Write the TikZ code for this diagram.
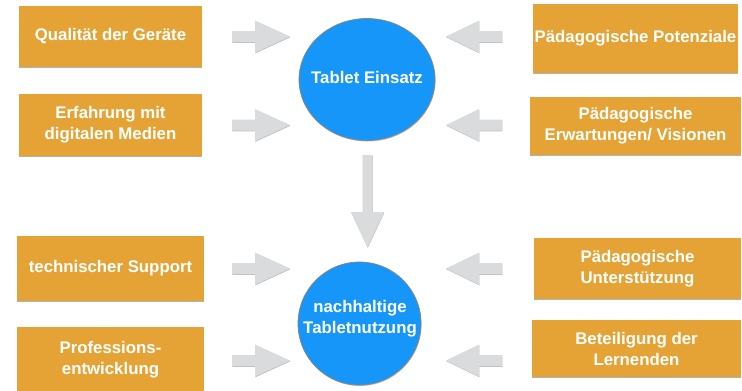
\documentclass[tikz,border=0pt]{standalone}
\usepackage{fontspec}
\setmainfont{Liberation Sans}
\usetikzlibrary{shapes.geometric,shadows}
\definecolor{boxorange}{HTML}{E6A335}
\definecolor{circblue}{HTML}{1796F9}
\definecolor{arrgray}{HTML}{DADBDD}
\definecolor{rimgray}{HTML}{8A8580}
\tikzset{
  lbl/.style={font=\fontsize{16.8bp}{21bp}\selectfont\bfseries, text=white, align=center},
  obox/.style={lbl, rectangle, fill=boxorange, inner sep=0pt,
    drop shadow={shadow xshift=0.4bp, shadow yshift=-1.4bp, opacity=0.3, fill=black}},
  bcirc/.style={ellipse, fill=circblue, inner sep=0pt, draw=rimgray, line width=0.7bp,
    drop shadow={shadow xshift=0.5bp, shadow yshift=-1bp, opacity=0.25, fill=black}},
  arrowst/.style={fill=arrgray,
    drop shadow={shadow xshift=0.3bp, shadow yshift=-0.8bp, opacity=0.25, fill=black}}
}
\newcommand\myrarrow[1]{\fill[arrowst] (232,#1-5.5) -- (255,#1-5.5) -- (255,#1-16) -- (290,#1) -- (255,#1+16) -- (255,#1+5.5) -- (232,#1+5.5) -- cycle;}
\newcommand\mylarrow[1]{\fill[arrowst] (502,#1-5.5) -- (479,#1-5.5) -- (479,#1-16) -- (446,#1) -- (479,#1+16) -- (479,#1+5.5) -- (502,#1+5.5) -- cycle;}
\begin{document}
\begin{tikzpicture}[x=1bp,y=-1bp]
\useasboundingbox (0,0) rectangle (742,390);
\fill[white] (0,0) rectangle (742,390);

% left boxes
\node[obox, minimum width=183bp, minimum height=61bp] (q) at (110.5,36.5) {Qualität der Geräte};
\node[obox, minimum width=183bp, minimum height=62bp] (e) at (110.5,125) {Erfahrung mit\\digitalen Medien};
\node[obox, minimum width=187bp, minimum height=65bp] (t) at (110.5,268.5) {technischer Support};
\node[obox, minimum width=187bp, minimum height=66bp] (p) at (110.5,360) {Professions-\\entwicklung};

% right boxes
\node[obox, minimum width=205bp, minimum height=69bp] (pp) at (635.5,38.5) {Pädagogische Potenziale};
\node[obox, minimum width=211bp, minimum height=58bp] (pe) at (635.5,126) {Pädagogische\\Erwartungen/ Visionen};
\node[obox, minimum width=207bp, minimum height=61bp] (pu) at (637.5,268.5) {Pädagogische\\Unterstützung};
\node[obox, minimum width=209bp, minimum height=57bp] (bl) at (636.5,348.5) {Beteiligung der\\Lernenden};

% circles
\node[bcirc, minimum width=136bp, minimum height=122bp] (c1) at (367,79.5) {};
\node[lbl] (c1t) at (367,77.5) {Tablet Einsatz};
\node[bcirc, minimum width=123bp, minimum height=123bp] (c2) at (359.5,323.5) {};
\node[lbl] (c2t) at (360,319) {nachhaltige\\Tabletnutzung};

% block arrows
\myrarrow{36.5}
\myrarrow{125}
\myrarrow{268.5}
\myrarrow{360.5}
\mylarrow{36.5}
\mylarrow{125}
\mylarrow{268.5}
\mylarrow{360.5}
\fill[arrowst] (362.5,155) -- (372.5,155) -- (372.5,212) -- (384,212) -- (367.5,247) -- (351,212) -- (362.5,212) -- cycle;
\end{tikzpicture}
\end{document}
